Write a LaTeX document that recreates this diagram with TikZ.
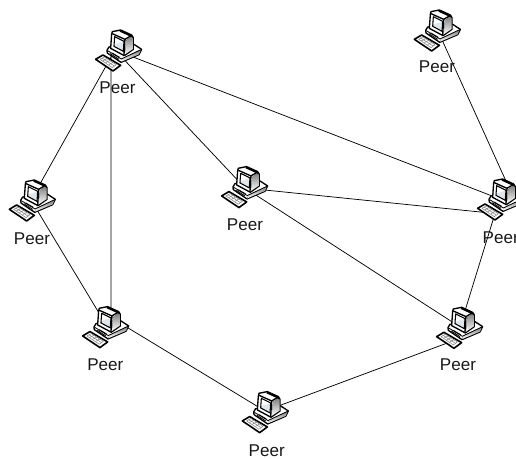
\documentclass[tikz,border=0pt]{standalone}
\usepackage{fontspec}
\setmainfont{Liberation Sans}
\definecolor{scr}{RGB}{222,230,238}
\definecolor{shade}{RGB}{190,190,190}
\tikzset{
  lnk/.style={draw=black,line width=0.55pt},
  lbl/.style={font=\fontsize{12.8}{14}\selectfont,inner sep=0pt,text=black!90},
  pics/computer/.style={code={
    \begin{scope}[x=0.25pt,y=-0.25pt,shift={(-85,-100)},line width=1pt,line join=round]
      % desktop base
      \filldraw[fill=white] (60,88)--(54,98)--(55,106)--(96,134)--(150,111)--(158,95)--(135,80)--cycle;
      \fill[shade] (100,122)--(97,132)--(150,110)--(156,96)--cycle;
      \draw[line width=0.6pt] (56,99)--(97,124)--(156,96);
      \draw[line width=0.6pt] (70,106)--(92,119);
      \draw[line width=0.6pt] (64,108)--(90,125);
      % monitor
      \filldraw[fill=white] (70,42)--(95,37)--(128,52)--(133,60)--(133,95)--(106,114)--(65,92)--(68,50)--cycle;
      \fill[shade] (112,68)--(128,56)--(132,62)--(132,94)--(108,110)--cycle;
      \fill[black] (95,37)--(128,52)--(133,60)--(127,58)--(92,42)--cycle;
      \draw (70,48)--(108,65)--(105,112);
      \draw (108,65)--(128,53);
      \fill[scr] (77,57)--(105,71)--(103,101)--(75,86)--cycle;
      \fill[white] (77,57)--(105,71)--(77,80)--cycle;
      \draw[line width=0.8pt] (77,57)--(105,71)--(103,101)--(75,86)--cycle;
      % keyboard
      \filldraw[fill=white,line width=1.2pt] (20,125)--(42,112)--(95,143)--(72,160)--cycle;
      \draw[gray,line width=0.4pt] (33,125)--(46,118)--(82,141)--(70,150)--cycle;
      \draw[gray,line width=0.4pt] (41,130)--(54,123) (50,135)--(63,128) (60,141)--(72,134);
      \draw[gray,line width=0.4pt] (39,121)--(76,145);
    \end{scope}
  }}
}
\begin{document}
\begin{tikzpicture}[x=0.75pt,y=-0.75pt]
\useasboundingbox (0,0) rectangle (516,459);
\fill[white] (0,0) rectangle (516,459);
\clip (0,0) rectangle (516,459);
\coordinate (A) at (115,50);
\coordinate (Aa) at (111,50);
\coordinate (B) at (31,200);
\coordinate (Ca) at (111,325);
\coordinate (Cb) at (115,320);
\coordinate (Cc) at (105,323);
\coordinate (D) at (245,188);
\coordinate (E) at (265,411);
\coordinate (Fa) at (460,327);
\coordinate (Fb) at (450,342);
\coordinate (R) at (505,201);
\coordinate (Rb) at (495,213.5);
\coordinate (Rt) at (510,190);
\coordinate (T) at (438,31);
\draw[lnk] (A)--(B) (Aa)--(Ca) (A)--(D) (A)--(R) (B)--(Cc) (Cb)--(E) (E)--(Fb) (Fa)--(Rb) (D)--(Rb) (D)--(Fa) (T)--(Rt);
\pic at (117.3,51) {computer};
\pic at (31,201) {computer};
\pic at (104.3,327.6) {computer};
\pic at (243.3,187.6) {computer};
\pic at (264,412.6) {computer};
\pic at (458.3,328.3) {computer};
\pic at (499.3,200) {computer};
\pic at (436,31) {computer};
\node[lbl] (l1) at (117.5,88) {Peer};
\node[lbl] (l2) at (32,238.5) {Peer};
\node[lbl] (l3) at (105.3,364.5) {Peer};
\node[lbl] (l4) at (245,225) {Peer};
\node[lbl] (l5) at (266.7,450.7) {Peer};
\node[lbl] (l6) at (458,364.5) {Peer};
\node[lbl] (l7) at (500.7,237.5) {Peer};
\node[lbl] (l8) at (437,67) {Peer};
\end{tikzpicture}
\end{document}
